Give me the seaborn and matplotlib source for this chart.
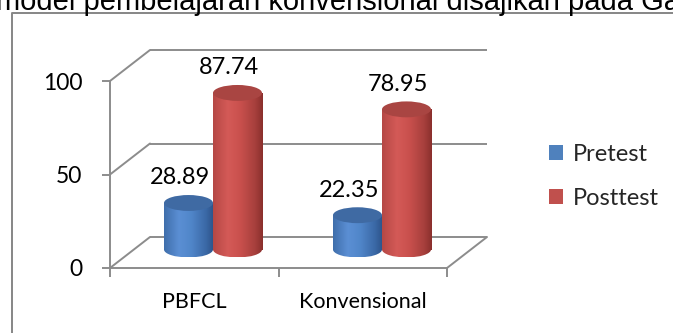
import numpy as np
import pandas as pd
import matplotlib
matplotlib.use("Agg")
import matplotlib.pyplot as plt
import seaborn as sns
from matplotlib.patches import Ellipse, Patch
from matplotlib.lines import Line2D
from matplotlib.transforms import IdentityTransform, offset_copy
from matplotlib.colors import LinearSegmentedColormap, to_hex

# ---------------- data ----------------
categories = ["PBFCL", "Konvensional"]
series = ["Pretest", "Posttest"]
pretest = [28.89, 22.35]
posttest = [87.74, 78.95]
yticks = [0, 50, 100]
caption = "model pembelajaran konvensional disajikan pada Gambar"

df = pd.DataFrame({
    "Kelas": categories + categories,
    "Tes": [series[0]] * len(categories) + [series[1]] * len(categories),
    "Nilai": pretest + posttest,
})

# ---------------- style ----------------
sns.set_theme(style="white")
plt.rcParams["font.family"] = ["Lato", "DejaVu Sans"]

BLUE = "#4f81bd"
RED = "#c0504d"
GRID = "#8c8c8c"
grad = {
    BLUE: LinearSegmentedColormap.from_list("b", [(0, "#3f6eab"), (0.3, "#5b8fd4"), (0.55, "#5086c9"),
                                                  (0.85, "#3a68a5"), (1.0, "#2c5288")]),
    RED: LinearSegmentedColormap.from_list("r", [(0, "#b54845"), (0.3, "#d45a57"), (0.55, "#c9504d"),
                                                 (0.85, "#a63f3c"), (1.0, "#8a2f2d")]),
}
top_col = {BLUE: "#3f6aa3", RED: "#a94542"}

W, H = 673, 333
fig = plt.figure(figsize=(W / 100, H / 100), dpi=100)


def fbox(x0, ytop, x1, ybot):
    return [x0 / W, 1 - ybot / H, (x1 - x0) / W, (ybot - ytop) / H]


ax_front = fig.add_axes(fbox(110, 81, 447, 268))
ax_bar = fig.add_axes(fbox(128.5, 70, 466.5, 257))
ax_front.set_zorder(1)
ax_bar.set_zorder(2)
ax_front.patch.set_alpha(0)
ax_bar.patch.set_alpha(0)

# ---------------- front plane / axis ----------------
ax_front.set_xlim(-0.5, len(categories) - 0.5)
ax_front.set_ylim(yticks[0], yticks[-1])
for s in ["top", "right"]:
    ax_front.spines[s].set_visible(False)
for s in ["left", "bottom"]:
    ax_front.spines[s].set_color(GRID)
    ax_front.spines[s].set_linewidth(1.4)
ax_front.set_yticks(yticks)
ax_front.set_yticklabels([str(t) for t in yticks])
ax_front.set_xticks(range(len(categories)))
ax_front.set_xticklabels(categories)
ax_front.set_xticks(np.arange(-0.5, len(categories)), minor=True)
ax_front.tick_params(axis="y", which="major", left=True, length=5.8, width=1.4, color=GRID,
                     pad=14, labelsize=16.5, labelcolor="black")
ax_front.tick_params(axis="x", which="major", bottom=True, length=0, pad=17, labelsize=15.5,
                     labelcolor="black")
ax_front.tick_params(axis="x", which="minor", bottom=True, length=6.5, width=1.4, color=GRID)

# back wall (front plane shifted in depth)
DX, DY = 40, 31
back = offset_copy(ax_front.transData, fig=fig, x=DX, y=DY, units="dots")
x_lo, x_hi = -0.5, len(categories) - 0.5
for v in yticks:
    ax_front.plot([x_lo, x_hi], [v, v], transform=back, clip_on=False, color=GRID, lw=1.4,
                  solid_capstyle="butt")
    p = ax_front.transData.transform((x_lo, v))
    fig.add_artist(Line2D([p[0], p[0] + DX], [p[1], p[1] + DY], transform=IdentityTransform(),
                          color=GRID, lw=1.4, zorder=0.5))
p = ax_front.transData.transform((x_hi, yticks[0]))
fig.add_artist(Line2D([p[0], p[0] + DX], [p[1], p[1] + DY], transform=IdentityTransform(),
                      color=GRID, lw=1.4, zorder=0.5))

# ---------------- bars (cylinders) ----------------
sns.barplot(data=df, x="Kelas", y="Nilai", hue="Tes", order=categories, hue_order=series,
            palette=[BLUE, RED], width=0.58, gap=0, errorbar=None, saturation=1,
            legend=False, ax=ax_bar)

B0 = 4.0   # centre of the base ellipse
EH = 8.5   # ellipse height in data units
gimg = np.linspace(0, 1, 256).reshape(1, -1)
for p in list(ax_bar.patches):
    col = to_hex(p.get_facecolor())
    key = BLUE if col.lower() == BLUE else RED
    z = 3 if key == BLUE else 4
    x0, w, v = p.get_x(), p.get_width(), p.get_height()
    cx = x0 + w / 2
    p.set_y(B0)
    p.set_height(v - B0)
    p.set_facecolor("none")
    p.set_edgecolor("none")
    ext = [x0, x0 + w, B0 - EH, v + 1]
    im = ax_bar.imshow(gimg, cmap=grad[key], extent=ext, aspect="auto", zorder=z,
                       interpolation="bilinear")
    im.set_clip_path(p)
    base = Ellipse((cx, B0), w, EH, facecolor="none", edgecolor="none")
    ax_bar.add_patch(base)
    im2 = ax_bar.imshow(gimg, cmap=grad[key], extent=ext, aspect="auto", zorder=z,
                        interpolation="bilinear")
    im2.set_clip_path(base)
    ax_bar.add_patch(Ellipse((cx, v), w, EH, facecolor=top_col[key], edgecolor="none",
                             zorder=z + 0.1))
    ax_bar.annotate(f"{v:.2f}", xy=(cx, v), xytext=(-6, 18), textcoords="offset points",
                    ha="center", va="center", fontsize=17, color="black", zorder=6)

ax_bar.set_xlim(-0.5, len(categories) - 0.5)
ax_bar.set_ylim(yticks[0], yticks[-1])
ax_bar.axis("off")

# ---------------- legend ----------------
handles = [Patch(facecolor=BLUE, edgecolor="none"), Patch(facecolor=RED, edgecolor="none")]
fig.legend(handles=handles, labels=series, loc="center left",
           bbox_to_anchor=(549 / W, 1 - 176.5 / H), frameon=False, fontsize=17,
           handlelength=0.6, handleheight=0.6, handletextpad=0.4, labelspacing=0.95,
           borderpad=0, borderaxespad=0)

# ---------------- surrounding document bits ----------------
fig.add_artist(Line2D([12, 12, W + 5], [-5, H - 13, H - 13], transform=IdentityTransform(),
                      color="#868686", lw=1.4, zorder=0.5))
fig.text(-4 / W, 1 - 10 / H, caption, fontsize=21, family=["Liberation Sans", "DejaVu Sans"],
         va="baseline", ha="left", color="black")

fig.savefig("out.png", dpi=100)
